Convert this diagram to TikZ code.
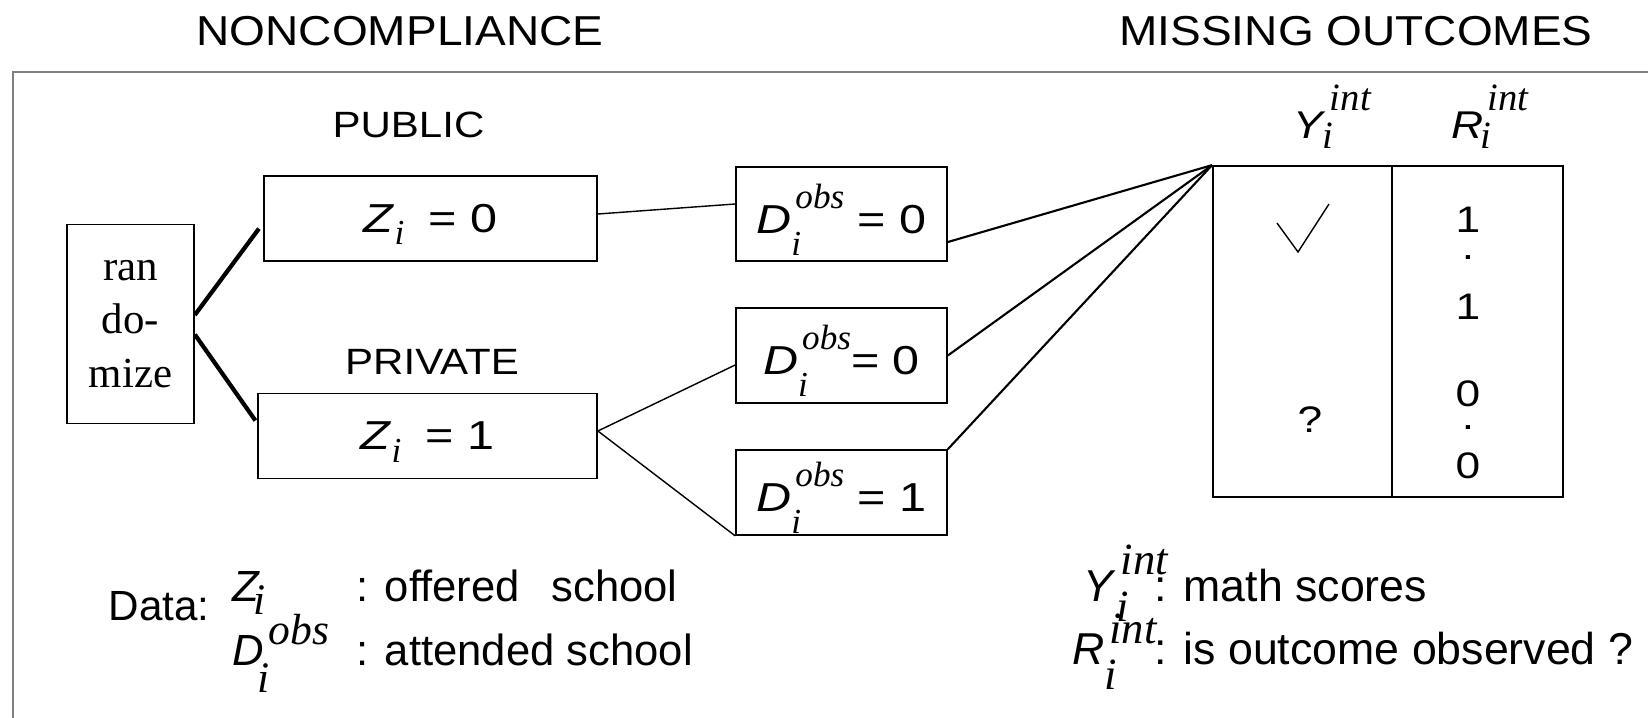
\documentclass[tikz,border=0pt]{standalone}
\usepackage{fontspec}
\setmainfont{Liberation Sans}
\newfontfamily\hdfont{Liberation Sans}[FakeStretch=1.1]
\newfontfamily\lblfont{Liberation Sans}[FakeStretch=1.15]
\newfontfamily\bxfont{Liberation Sans}[FakeStretch=1.2]
\newfontfamily\tms{Liberation Serif}

% letter with a serif italic index below and a tag above
\newsavebox{\subbx}
\newsavebox{\supbx}
\newcommand{\subdn}{0.55em}
\newcommand{\supup}{0.62em}
\newcommand{\subkern}{0pt}
\newcommand{\scrfont}{}
\newcommand{\ivar}[3]{\textit{#1}%
  \sbox{\subbx}{\tms\scrfont\itshape #2}\sbox{\supbx}{\kern.1em\tms\scrfont\itshape #3}%
  \rlap{\kern\subkern\raisebox{-\subdn}[0pt][0pt]{\usebox{\subbx}}}%
  \raisebox{\supup}[0pt][0pt]{\usebox{\supbx}}%
  \ifdim\wd\subbx>\wd\supbx \hspace{\dimexpr\wd\subbx-\wd\supbx\relax}\fi}
\newcommand{\lowr}[1]{\raisebox{-1.5pt}[\height][\depth]{#1}}

\begin{document}
\begin{tikzpicture}[x=0.01cm, y=-0.01cm, node distance=1cm,
  box/.style={rectangle, draw, line width=0.45pt, inner sep=2pt, text centered,
    font={\bxfont\fontsize{11.5}{13}\selectfont\def\scrfont{\fontsize{10}{12}\selectfont}}},
  head/.style={inner sep=0pt, anchor=base, font=\hdfont\fontsize{11.9}{14}\selectfont},
  branch/.style={inner sep=0pt, font=\lblfont\fontsize{10.4}{12}\selectfont},
  cell/.style={inner sep=0pt, font=\bxfont\fontsize{10.5}{12}\selectfont},
  legend/.style={inner sep=0pt, anchor=base west, font=\fontsize{12.4}{14}\selectfont}]

  \useasboundingbox (0,0) rectangle (1648,718);

  % Headings and the open frame
  \node (noncomp) [head] at (400,45) {NONCOMPLIANCE};
  \node (missing) [head] at (1356,45) {MISSING OUTCOMES};
  \draw[gray, line width=0.6pt] (13,718) -- (13,72) -- (1648,72);

  % Randomization and the offer
  \node (rand) [box, minimum width=1.27cm, minimum height=1.99cm, align=center, font=\tms\fontsize{12.2}{15.3}\selectfont] at (130.5,324) {ran\\do-\\mize};
  \node (zpub) [box, minimum width=3.33cm, minimum height=0.85cm] at (430.5,218.5) {\def\subdn{.3em}\ivar{Z}{i}{}\hspace{3pt} = 0};
  \node (zpriv) [box, minimum width=3.39cm, minimum height=0.85cm] at (427.5,436) {\def\subdn{.3em}\ivar{Z}{i}{}\hspace{3pt} = 1};
  \node (public) [branch, above of=zpub, xshift=-0.22cm, yshift=-0.065cm] {PUBLIC};
  \node (private) [branch, above of=zpriv, xshift=0.045cm, yshift=-0.255cm] {PRIVATE};

  % School attended
  \node (dpub) [box, minimum width=2.11cm, minimum height=0.94cm] at (841.5,214) {\lowr{\ivar{D}{i}{obs} = 0}};
  \node (dprivzero) [box, minimum width=2.11cm, minimum height=0.95cm] at (841.5,355.5) {\lowr{\ivar{D}{i}{obs}= 0}};
  \node (dprivone) [box, minimum width=2.11cm, minimum height=0.85cm] at (841.5,492.5) {\lowr{\ivar{D}{i}{obs} = 1}};

  % Outcome table
  \node (tbl) [draw, line width=0.45pt, minimum width=3.5cm, minimum height=3.31cm] at (1388,331.5) {};
  \draw[line width=0.45pt] ([xshift=1.8cm]tbl.north west) -- ([xshift=1.8cm]tbl.south west);
  \node (yhead) [legend, font=\lblfont\fontsize{11}{13}\selectfont] at (1293,138) {\def\subdn{.26em}\def\supup{.72em}\def\subkern{-1pt}\ivar{Y}{i}{int}};
  \node (rhead) [legend, font=\lblfont\fontsize{11}{13}\selectfont] at (1451,138) {\def\subdn{.26em}\def\supup{.72em}\def\subkern{-1pt}\ivar{R}{i}{int}};
  \draw[line width=0.4pt] (1277,223) -- (1298,252) -- (1329,204);
  \node (ymiss) [cell] at (1310,420) {?};
  \foreach \val/\ypos [count=\k] in {1/220,./258,1/307,0/394,./428,0/466}
    \node (rval\k) [cell] at (1468,\ypos) {\val};

  % Branches
  \draw[line width=1.2pt, shorten >=0.07cm] ([yshift=0.09cm]rand.east) -- ([yshift=-0.045cm]zpub.west);
  \draw[line width=1.2pt, shorten >=0.03cm] ([yshift=-0.105cm]rand.east) -- ([yshift=0.13cm]zpriv.west);
  \draw[line width=0.4pt] ([yshift=0.045cm]zpub.east) -- ([yshift=0.1cm]dpub.west);
  \draw[line width=0.4pt] ([yshift=0.05cm]zpriv.east) -- ([yshift=-0.095cm]dprivzero.west);
  \draw[line width=0.4pt] ([yshift=0.05cm]zpriv.east) -- (dprivone.south west);
  \draw[line width=0.6pt] (tbl.north west) -- ([yshift=-0.28cm]dpub.east);
  \draw[line width=0.6pt] (tbl.north west) -- (dprivzero.east);
  \draw[line width=0.6pt] (tbl.north west) -- (dprivone.north east);

  % Legends
  \node (data) [legend, font=\fontsize{12}{14}\selectfont] at (108,620) {Data:};
  \node (lgz) [legend] at (232,601) {\def\subdn{.32em}\def\subkern{-2pt}\ivar{Z}{i}{}};
  \node (lgzt) [legend] at (356,601) {: offered\hspace{9pt}school};
  \node (lgd) [legend] at (232,665) {\def\subdn{.62em}\def\supup{.48em}\def\subkern{-2pt}\ivar{D}{i}{obs}};
  \node (lgdt) [legend] at (356,665) {: attended school};
  \node (lgy) [legend, font=\fontsize{12.7}{15}\selectfont] at (1083,601) {\def\subdn{.45em}\def\supup{.6em}\ivar{Y}{i}{int}};
  \node (lgyt) [legend, font=\fontsize{12.7}{15}\selectfont] at (1154,601) {: math scores};
  \node (lgr) [legend, font=\fontsize{12.7}{15}\selectfont] at (1072,664) {\def\subdn{.57em}\def\supup{.45em}\ivar{R}{i}{int}};
  \node (lgrt) [legend, font=\fontsize{12.7}{15}\selectfont] at (1154,664) {: is outcome observed ?};

\end{tikzpicture}
\end{document}
